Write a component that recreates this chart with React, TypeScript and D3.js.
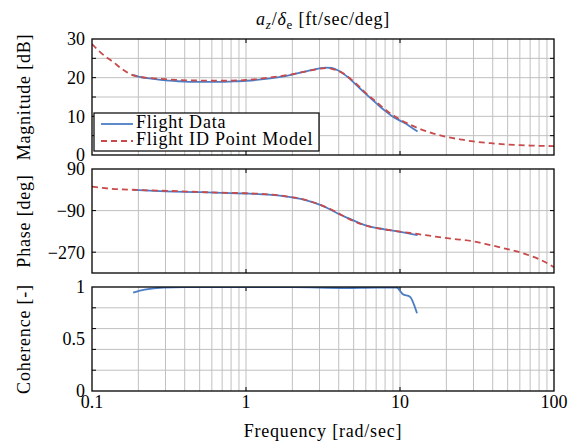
import React from "react";
import * as d3 from "d3";

// ---------- data ----------
const modelMagFreq = [0.1, 0.113, 0.1375, 0.16, 0.185, 0.2, 0.3, 0.5, 0.7, 1, 1.4, 2, 2.5, 3, 3.3, 3.6, 4, 4.5, 5, 5.5, 6, 7, 8, 9, 10, 11, 12, 13, 15, 17, 20, 25, 30, 40, 50, 60, 70, 85, 100];
const modelMag = [28.7, 26.6, 24.0, 22.0, 20.6, 20.3, 19.6, 19.25, 19.2, 19.4, 20.0, 20.9, 21.7, 22.3, 22.45, 22.3, 21.7, 20.5, 19.0, 17.5, 16.0, 13.8, 11.8, 10.3, 9.2, 8.3, 7.6, 7.0, 6.1, 5.4, 4.7, 4.0, 3.5, 3.0, 2.7, 2.55, 2.45, 2.35, 2.3];

const dataMagFreq = [0.185, 0.2, 0.25, 0.3, 0.4, 0.5, 0.6, 0.7, 0.8, 1, 1.3, 1.6, 2, 2.5, 3, 3.3, 3.6, 4, 4.5, 5, 5.5, 6, 7, 8, 9, 10, 11, 12, 13];
const dataMag = [20.7, 20.3, 19.7, 19.3, 19.0, 18.9, 18.9, 18.9, 19.0, 19.2, 19.6, 20.1, 20.8, 21.7, 22.4, 22.6, 22.5, 21.8, 20.4, 18.8, 17.2, 15.8, 13.4, 11.4, 9.9, 8.9, 8.0, 7.0, 6.1];

const modelPhaseFreq = [0.1, 0.13, 0.2, 0.38, 0.66, 1, 1.48, 1.94, 2.54, 2.98, 3.52, 4.04, 4.62, 5.42, 6.37, 7.93, 10, 12.9, 16.9, 22, 29, 38, 50, 66, 86, 100];
const modelPhase = [13.7, 5, -0.7, -6.5, -12, -15, -21, -31, -47, -63, -83, -104, -124.6, -145, -159, -171, -181, -191, -202, -212, -221, -238, -257, -279, -310, -335];

const dataPhaseFreq = [0.185, 0.3, 0.5, 0.7, 1, 1.4, 1.9, 2.5, 3.0, 3.5, 4.0, 4.7, 5.5, 6.4, 7.9, 10, 13];
const dataPhase = [-0.5, -6.5, -10, -13, -16, -21, -31, -47, -64, -84, -105, -125, -145, -159, -171, -182, -196];

const cohFreq = [0.185, 0.22, 0.29, 0.4, 1, 2, 4.4, 7, 9.5, 10.4, 11.6, 12.9];
const cohValue = [0.946, 0.974, 0.994, 0.998, 0.998, 0.998, 0.99, 0.995, 0.995, 0.933, 0.907, 0.747];

const xTicks = [0.1, 1, 10, 100];
const xTickLabels = ["0.1", "1", "10", "100"];
const magTicks = [0, 10, 20, 30];
const magGrid = [5, 10, 15, 20, 25];
const phaseTicks = [90, -90, -270];
const phaseGrid = [-90, -270];
const cohTicks = [0, 0.5, 1];
const cohTickLabels = ["0", "0.5", "1"];
const cohGrid = [0.2, 0.4, 0.6, 0.8];

const legendLabels = ["Flight Data", "Flight ID Point Model"];

// ---------- layout ----------
const W = 568, H = 442;
const L = 92, R = 554;
const FONT = "'Liberation Serif', 'Times New Roman', serif";
const FS = 18;
const LS = 0.8; // letter spacing for words
const BLUE = "#4a7dc6";
const RED = "#c94a4a";
const GRID = "#c0c0c0";

const x = d3.scaleLog().domain([0.1, 100]).range([L, R]);
const minorX: number[] = [];
[0.1, 1, 10].forEach((d) => { for (let k = 2; k <= 9; k++) minorX.push(d * k); });
minorX.push(1, 10);

type PanelProps = {
  top: number; bottom: number; domain: [number, number];
  grid: number[]; ticks: number[]; tickLabels: string[];
  series: { f: number[]; v: number[]; color: string; dash?: string }[];
  ylabel: string;
};

function Panel({ top, bottom, domain, grid, ticks, tickLabels, series, ylabel }: PanelProps) {
  const y = d3.scaleLinear().domain(domain).range([bottom, top]);
  const line = d3.line<[number, number]>().x((d) => x(d[0])).y((d) => y(d[1])).curve(d3.curveMonotoneX);
  const clipId = `clip-${top}`;
  return (
    <g>
      <clipPath id={clipId}><rect x={L} y={top} width={R - L} height={bottom - top} /></clipPath>
      {minorX.map((f, i) => (
        <line key={"vx" + i} x1={x(f)} x2={x(f)} y1={top} y2={bottom} stroke={GRID} strokeWidth={1} />
      ))}
      {grid.map((g, i) => (
        <line key={"hy" + i} x1={L} x2={R} y1={y(g)} y2={y(g)} stroke={GRID} strokeWidth={1} />
      ))}
      {[1, 10].map((f, i) => (
        <g key={"xt" + i}>
          <line x1={x(f)} x2={x(f)} y1={top} y2={top + 4} stroke="#000" strokeWidth={1} />
          <line x1={x(f)} x2={x(f)} y1={bottom} y2={bottom - 4} stroke="#000" strokeWidth={1} />
        </g>
      ))}
      {grid.map((g, i) => (
        <g key={"yt" + i}>
          <line x1={L} x2={L + 4} y1={y(g)} y2={y(g)} stroke="#000" strokeWidth={1} />
          <line x1={R} x2={R - 4} y1={y(g)} y2={y(g)} stroke="#000" strokeWidth={1} />
        </g>
      ))}
      <g clipPath={`url(#${clipId})`}>
        {series.map((s, i) => (
          <path key={"s" + i} d={line(s.f.map((f, j) => [f, s.v[j]] as [number, number])) || ""}
            fill="none" stroke={s.color} strokeWidth={1.8} strokeDasharray={s.dash} />
        ))}
      </g>
      <rect x={L} y={top} width={R - L} height={bottom - top} fill="none" stroke="#000" strokeWidth={1.3} />
      {ticks.map((t, i) => (
        <text key={"tl" + i} x={L - 7} y={y(t)} dy="0.35em" textAnchor="end" fontFamily={FONT} fontSize={FS}>{tickLabels[i]}</text>
      ))}
      <text transform={`translate(24,${(top + bottom) / 2}) rotate(-90)`} textAnchor="middle" fontFamily={FONT} fontSize={FS} letterSpacing={LS} dy="0.35em">{ylabel}</text>
    </g>
  );
}

export default function App() {
  const magTop = 39, magBot = 155;
  const phTop = 169, phBot = 273;
  const cohTop = 287, cohBot = 391;
  const lgX = 94, lgY = 113, lgW = 225, lgH = 38;
  const cx = (L + R) / 2;
  return (
    <svg width={W} height={H} style={{ position: "absolute", left: 0, top: 0, background: "#fff" }}>
      <rect width={W} height={H} fill="#fff" />
      <text x={cx} y={25} textAnchor="middle" fontFamily={FONT} fontSize={FS} letterSpacing={LS}>
        <tspan fontStyle="italic">a</tspan>
        <tspan fontStyle="italic" fontSize={13} dy={4}>z</tspan>
        <tspan dy={-4}>/</tspan>
        <tspan fontStyle="italic">δ</tspan>
        <tspan fontSize={13} dy={4}>e</tspan>
        <tspan dy={-4}> [ft/sec/deg]</tspan>
      </text>
      <Panel top={magTop} bottom={magBot} domain={[0, 30]} grid={magGrid}
        ticks={magTicks} tickLabels={magTicks.map(String)} ylabel="Magnitude [dB]"
        series={[{ f: dataMagFreq, v: dataMag, color: BLUE }, { f: modelMagFreq, v: modelMag, color: RED, dash: "6,4" }]} />
      <Panel top={phTop} bottom={phBot} domain={[-360, 90]} grid={phaseGrid}
        ticks={phaseTicks} tickLabels={phaseTicks.map((t) => (t < 0 ? "\u2212" + Math.abs(t) : String(t)))} ylabel="Phase [deg]"
        series={[{ f: dataPhaseFreq, v: dataPhase, color: BLUE }, { f: modelPhaseFreq, v: modelPhase, color: RED, dash: "6,4" }]} />
      <Panel top={cohTop} bottom={cohBot} domain={[0, 1]} grid={cohGrid}
        ticks={cohTicks} tickLabels={cohTickLabels} ylabel="Coherence [-]"
        series={[{ f: cohFreq, v: cohValue, color: BLUE }]} />
      {xTicks.map((t, i) => (
        <text key={"xl" + i} x={x(t)} y={cohBot + 17} textAnchor="middle" fontFamily={FONT} fontSize={FS}>{xTickLabels[i]}</text>
      ))}
      <text x={cx} y={437} textAnchor="middle" fontFamily={FONT} fontSize={FS} letterSpacing={LS}>Frequency [rad/sec]</text>
      {/* legend */}
      <rect x={lgX} y={lgY} width={lgW} height={lgH} fill="#fff" stroke="#000" strokeWidth={1.2} />
      <line x1={lgX + 7} x2={lgX + 39} y1={lgY + 11} y2={lgY + 11} stroke={BLUE} strokeWidth={1.8} />
      <line x1={lgX + 7} x2={lgX + 39} y1={lgY + 28} y2={lgY + 28} stroke={RED} strokeWidth={1.8} strokeDasharray="6,4" />
      <text x={lgX + 42} y={lgY + 15} fontFamily={FONT} fontSize={FS} letterSpacing={LS}>{legendLabels[0]}</text>
      <text x={lgX + 42} y={lgY + 32} fontFamily={FONT} fontSize={FS} letterSpacing={LS}>{legendLabels[1]}</text>
    </svg>
  );
}
